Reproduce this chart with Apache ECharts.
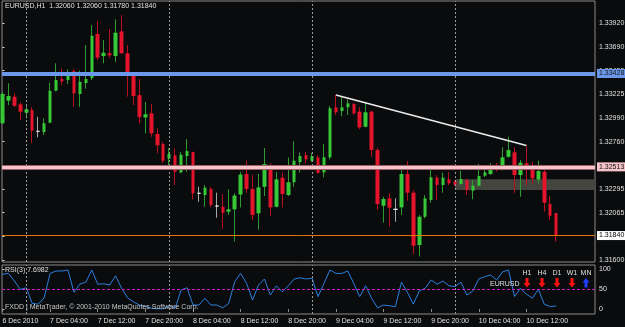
<!DOCTYPE html>
<html><head><meta charset="utf-8">
<script src="https://cdn.jsdelivr.net/npm/echarts@6/dist/echarts.min.js"></script>
<style>html,body{margin:0;padding:0;background:#0a0b0d;}#c{width:625px;height:327px;}</style>
</head><body><div id="c"></div>
<script>
// ---------- data (bar 0 = 6 Dec 2010 20:00, H1 bars) ----------
const symbol = 'EURUSD';
const timeframe = 'H1';
const opens = [1.32940,1.33162,1.33201,1.33126,1.33044,1.33070,1.32861,1.32854,1.32946,1.33259,
1.33374,1.33364,1.33452,1.33227,1.33335,1.33384,1.33815,1.33599,1.33626,1.33599,
1.33841,1.33626,1.33420,1.33217,1.32997,1.33038,1.32835,1.32737,1.32593,1.32626,
1.32459,1.32619,1.32658,1.32254,1.32237,1.32296,1.32129,1.32122,1.32073,1.32097,
1.32242,1.32443,1.32296,1.32058,1.32318,1.32521,1.32122,1.32407,1.32237,1.32362,
1.32560,1.32629,1.32573,1.32605,1.32459,1.32607,1.33097,1.33060,1.33097,1.33129,
1.33054,1.32906,1.33054,1.32678,1.32132,1.32205,1.32097,1.32116,1.32443,1.32260,
1.31747,1.32024,1.32188,1.32407,1.32335,1.32391,1.32367,1.32345,1.32384,1.32279,
1.32328,1.32426,1.32443,1.32521,1.32487,1.32612,1.32655,1.32433,1.32548,1.32485,
1.32389,1.32465,1.32149,1.32060];
const closes = [1.33227,1.33208,1.33112,1.33054,1.33077,1.32867,1.32861,1.32940,1.33259,1.33364,
1.33351,1.33442,1.33234,1.33347,1.33374,1.33798,1.33583,1.33632,1.33606,1.33828,
1.33626,1.33423,1.33208,1.33001,1.33029,1.32842,1.32724,1.32573,1.32639,1.32465,
1.32632,1.32668,1.32254,1.32254,1.32309,1.32139,1.32129,1.32064,1.32097,1.32232,
1.32438,1.32296,1.32041,1.32312,1.32541,1.32116,1.32391,1.32247,1.32362,1.32573,
1.32619,1.32587,1.32619,1.32453,1.32607,1.33087,1.33048,1.33097,1.33136,1.33038,
1.32900,1.33048,1.32678,1.32149,1.32198,1.32113,1.32097,1.32443,1.32260,1.31740,
1.32024,1.32205,1.32411,1.32335,1.32407,1.32352,1.32340,1.32394,1.32286,1.32328,
1.32423,1.32459,1.32524,1.32489,1.32607,1.32678,1.32433,1.32554,1.32482,1.32401,
1.32472,1.32162,1.32034,1.31840];
const lows = [1.32933,1.33119,1.33097,1.32972,1.32989,1.32750,1.32803,1.32825,1.32940,1.33255,
1.33315,1.33325,1.33102,1.33102,1.33279,1.33364,1.33560,1.33528,1.33583,1.33543,
1.33620,1.33201,1.33119,1.32940,1.32842,1.32808,1.32646,1.32548,1.32511,1.32335,
1.32450,1.32465,1.32195,1.32171,1.32122,1.32116,1.32015,1.31907,1.32041,1.31781,
1.32115,1.32257,1.31992,1.31899,1.32227,1.32031,1.32116,1.32116,1.32227,1.32318,
1.32456,1.32548,1.32560,1.32448,1.32411,1.32587,1.33021,1.33011,1.33021,1.33021,
1.32881,1.32900,1.32612,1.32090,1.31966,1.31926,1.31975,1.32041,1.32181,1.31659,
1.31634,1.32009,1.32162,1.32188,1.32260,1.32335,1.32325,1.32335,1.32237,1.32195,
1.32325,1.32413,1.32433,1.32467,1.32479,1.32602,1.32257,1.32220,1.32335,1.32352,
1.32352,1.32073,1.31992,1.31780];
const highs = [1.33247,1.33332,1.33234,1.33146,1.33129,1.33097,1.33004,1.32989,1.33338,1.33528,
1.33475,1.33469,1.33475,1.33455,1.33707,1.33903,1.33942,1.33756,1.33864,1.33959,
1.34001,1.33707,1.33425,1.33374,1.33148,1.33129,1.32891,1.32756,1.32695,1.32695,
1.32661,1.32786,1.32662,1.32318,1.32335,1.32318,1.32260,1.32244,1.32293,1.32254,
1.32462,1.32575,1.32433,1.32443,1.32698,1.32548,1.32462,1.32457,1.32605,1.32764,
1.32654,1.32661,1.32649,1.32629,1.32737,1.33109,1.33217,1.33201,1.33175,1.33142,
1.33097,1.33151,1.33063,1.32701,1.32220,1.32254,1.32205,1.32499,1.32570,1.32283,
1.32041,1.32237,1.32499,1.32433,1.32456,1.32462,1.32379,1.32475,1.32401,1.32384,
1.32541,1.32507,1.32548,1.32551,1.32705,1.32808,1.32705,1.32580,1.32722,1.32564,
1.32574,1.32531,1.32227,1.32060];
const rsi = [86.7,89,70,49,53,14,12,28,89,95,
95,97.5,42,62,67,97.5,62,63,60,83,
52,28,18,10,6,2,1,0.5,8,2,
47.5,53,10,10,27,10,10,3,14,68,
89,64,22.5,60,75,35,58,43,58,75,
78,75,77,31,64,97.5,89,89,95,64,
31,58,27,3,10,8,6,67,42,12,
45,52,72.5,62,70,58,56,67,35,45,
75,81,85,72.5,93,97.5,31,52,37,27,
49,12,6,7.6982];
const rsiPeriod = 3;
const timeLabelBars = [0,8,16,24,32,40,48,56,64,72,80,88];
const timeLabels = ['6 Dec 2010','7 Dec 04:00','7 Dec 12:00','7 Dec 20:00','8 Dec 04:00','8 Dec 12:00',
  '8 Dec 20:00','9 Dec 04:00','9 Dec 12:00','9 Dec 20:00','10 Dec 04:00','10 Dec 12:00'];
const priceTicks = [1.31600,1.31835,1.32065,1.32295,1.32525,1.32760,1.32990,1.33225,1.33455,1.33690,1.33920];
const rsiTicks = [0,50,100];
const rsiLevel = 50;
const separatorBars = [4,28,52,76];
const blueLevel = 1.33428;
const pinkLevel = 1.32513;
const bidLevel = 1.31840;
const trendStart = [56,1.33217];
const trendEnd = [88,1.32722];
const zoneStartBar = 76;
const zoneTop = 1.32391;
const zoneBottom = 1.32286;
const tfNames = ['H1','H4','D1','W1','MN'];
const tfDirs = [-1,-1,-1,-1,1];

// ---------- layout / style ----------
const BG = '#0a0b0d';
const FONT = '"Liberation Sans", Arial, sans-serif';
const TXT = '#e0e0e0';
const FRAME = '#8a8a8a';
const BULL = '#36c836', BULL_W = '#2c9c2c';
const BEAR = '#e3142c', BEAR_W = '#b80f1e';
const DOJI_W = '#a8a8a8', DOJI_X = '#e6e6e6';
const BID_COLOR = '#e8780a';
const GL = 2, GW = 593, STEP = 5.954;
const X_MIN = -0.08, X_MAX = X_MIN + GW / STEP;
const MAIN_TOP = 1, MAIN_H = 261;
const Y_MAX = 1.3414834 - 0.000098 * MAIN_TOP;
const Y_MIN = 1.3414834 - 0.000098 * (MAIN_TOP + MAIN_H);
const RSI_TOP = 265, RSI_H = 49;

const n = opens.length;
const isDoji = i => opens[i] === closes[i];
const wickData = opens.map((o, i) => {
  const d = { value: [i, o, closes[i], lows[i], highs[i]] };
  if (isDoji(i)) d.itemStyle = { color: DOJI_W, color0: DOJI_W, borderColor: DOJI_W, borderColor0: DOJI_W, borderColorDoji: DOJI_W };
  return d;
});
const bodyData = opens.map((o, i) => {
  const c = closes[i];
  const d = { value: [i, o, c, Math.min(o, c), Math.max(o, c)] };
  if (isDoji(i)) d.itemStyle = { color: DOJI_X, color0: DOJI_X, borderColor: DOJI_X, borderColor0: DOJI_X, borderColorDoji: DOJI_X, borderWidth: 1 };
  return d;
});
const rsiData = rsi.map((v, i) => [i, v]);
const last = n - 1;
const f5 = v => v.toFixed(5);

const graphics = [
  { type: 'text', left: 5, top: 3, z: 50, style: { text: `${symbol},${timeframe}  ${f5(opens[last])} ${f5(highs[last])} ${f5(lows[last])} ${f5(closes[last])}`, fill: TXT, font: `7px ${FONT}` } },
  { type: 'text', left: 5, top: 267, z: 50, style: { text: `RSI(${rsiPeriod}) ${rsi[last].toFixed(4)}`, fill: TXT, font: `7px ${FONT}` } },
  { type: 'text', left: 5, top: 304, z: 50, style: { text: 'FXDD | MetaTrader, © 2001-2010 MetaQuotes Software Corp.', fill: '#c8c8c8', font: `7px ${FONT}` } },
  { type: 'text', left: 490, top: 281, z: 50, style: { text: symbol, fill: TXT, font: `7px ${FONT}` } }
];
const tfX = [527, 542, 557, 572, 586];
tfNames.forEach((name, k) => {
  graphics.push({ type: 'text', x: tfX[k], y: 270, z: 50, style: { text: name, fill: TXT, font: `7px ${FONT}`, align: 'center' } });
  const cx = tfX[k], top = 278;
  const pts = tfDirs[k] < 0
    ? [[-1.5,0],[1.5,0],[1.5,5],[3.5,5],[0,9.5],[-3.5,5],[-1.5,5]]
    : [[0,0],[3.5,4.5],[1.5,4.5],[1.5,9.5],[-1.5,9.5],[-1.5,4.5],[-3.5,4.5]];
  graphics.push({ type: 'polygon', z: 50, shape: { points: pts.map(p => [cx + p[0], top + p[1]]) },
    style: { fill: tfDirs[k] < 0 ? '#ff1010' : '#2040ff' } });
});

const chart = echarts.init(document.getElementById('c'), null, { renderer: 'canvas' });
chart.setOption({
  backgroundColor: BG,
  animation: false,
  textStyle: { fontFamily: FONT },
  grid: [
    { left: GL, top: MAIN_TOP, width: GW, height: MAIN_H, show: true, borderColor: FRAME, borderWidth: 1, backgroundColor: 'transparent', containLabel: false, outerBoundsMode: 'none' },
    { left: GL, top: RSI_TOP, width: GW, height: RSI_H, show: true, borderColor: FRAME, borderWidth: 1, backgroundColor: 'transparent', containLabel: false, outerBoundsMode: 'none' }
  ],
  xAxis: [
    { type: 'value', gridIndex: 0, min: X_MIN, max: X_MAX, axisLine: { show: false }, axisTick: { show: false }, axisLabel: { show: false }, splitLine: { show: false } },
    { type: 'value', gridIndex: 1, min: X_MIN, max: X_MAX, axisLine: { show: false },
      axisTick: { show: true, customValues: timeLabelBars, length: 3, lineStyle: { color: FRAME } },
      axisLabel: { show: true, customValues: timeLabelBars, formatter: v => timeLabels[timeLabelBars.indexOf(Math.round(v))] || '',
        color: TXT, fontSize: 7, fontFamily: FONT, align: 'left', margin: 4, showMinLabel: true, showMaxLabel: true, hideOverlap: false },
      splitLine: { show: false } }
  ],
  yAxis: [
    { type: 'value', gridIndex: 0, position: 'right', min: Y_MIN, max: Y_MAX, axisLine: { show: false },
      axisTick: { show: true, customValues: priceTicks, length: 2, lineStyle: { color: TXT } },
      axisLabel: { show: true, customValues: priceTicks, formatter: v => v.toFixed(5), color: TXT, fontSize: 7, fontFamily: FONT, margin: 4, hideOverlap: false },
      splitLine: { show: false } },
    { type: 'value', gridIndex: 1, position: 'right', min: -12.5, max: 110, axisLine: { show: false },
      axisTick: { show: true, customValues: rsiTicks, length: 2, lineStyle: { color: TXT } },
      axisLabel: { show: true, customValues: rsiTicks, formatter: v => String(Math.round(v)), color: TXT, fontSize: 7, fontFamily: FONT, margin: 4, hideOverlap: false },
      splitLine: { show: false } }
  ],
  graphic: graphics,
  series: [
    { // background objects: rectangle zone and period separators
      type: 'line', xAxisIndex: 0, yAxisIndex: 0, data: [], z: 1, silent: true,
      markArea: { silent: true, itemStyle: { color: '#45453f', opacity: 1 },
        data: [[{ coord: [zoneStartBar, zoneTop] }, { coord: [X_MAX, zoneBottom] }]] },
      markLine: { silent: true, symbol: 'none', label: { show: false },
        lineStyle: { color: '#9a9a9a', width: 1, type: [2, 2] },
        data: separatorBars.map(b => ({ xAxis: b })) }
    },
    { type: 'line', xAxisIndex: 1, yAxisIndex: 1, data: [], z: 1, silent: true,
      markLine: { silent: true, symbol: 'none', label: { show: false },
        lineStyle: { color: '#9a9a9a', width: 1, type: [2, 2] },
        data: separatorBars.map(b => ({ xAxis: b })) } },
    { // bid price line
      type: 'line', xAxisIndex: 0, yAxisIndex: 0, z: 5, silent: true, showSymbol: false, symbol: 'none',
      color: BID_COLOR,
      data: [[X_MIN, bidLevel], [X_MAX, bidLevel]],
      lineStyle: { color: BID_COLOR, width: 1, opacity: 1 },
      itemStyle: { color: BID_COLOR },
      endLabel: { show: true, distance: 2, formatter: () => f5(bidLevel), backgroundColor: '#ffffff', color: '#000000', fontSize: 7, fontFamily: FONT, padding: [1, 2] }
    },
    { // wicks
      type: 'candlestick', xAxisIndex: 0, yAxisIndex: 0, z: 3, barWidth: 1, silent: true,
      encode: { x: 0, y: [1, 2, 3, 4] }, data: wickData,
      itemStyle: { color: BULL_W, color0: BEAR_W, borderColor: BULL_W, borderColor0: BEAR_W, borderColorDoji: DOJI_W, borderWidth: 1 }
    },
    { // bodies + object lines
      type: 'candlestick', xAxisIndex: 0, yAxisIndex: 0, z: 4, barWidth: 4, silent: true,
      encode: { x: 0, y: [1, 2, 3, 4] }, data: bodyData,
      itemStyle: { color: BULL, color0: BEAR, borderColor: BULL, borderColor0: BEAR, borderColorDoji: DOJI_X, borderWidth: 0 },
      markLine: { silent: true, symbol: 'none', precision: 5,
        data: [
          { yAxis: blueLevel, lineStyle: { color: '#6b98ea', width: 4, type: 'solid' },
            label: { show: true, position: 'end', distance: 2, formatter: () => f5(blueLevel), backgroundColor: '#6b98ea', color: '#101010', fontSize: 7, fontFamily: FONT, padding: [1, 2] } },
          { yAxis: pinkLevel, lineStyle: { color: '#a06068', width: 5, type: 'solid' }, label: { show: false } },
          { yAxis: pinkLevel, lineStyle: { color: '#f8c4cc', width: 3, type: 'solid' },
            label: { show: true, position: 'end', distance: 2, formatter: () => f5(pinkLevel), backgroundColor: '#f8c4cc', color: '#101010', fontSize: 7, fontFamily: FONT, padding: [1, 2] } },
          [{ coord: trendStart, lineStyle: { color: '#ececec', width: 1.5, type: 'solid' }, label: { show: false } }, { coord: trendEnd }]
        ] }
    },
    { // RSI
      type: 'line', xAxisIndex: 1, yAxisIndex: 1, z: 3, data: rsiData, showSymbol: false, silent: true,
      lineStyle: { color: '#2a80e0', width: 1 },
      markLine: { silent: true, symbol: 'none', label: { show: false },
        lineStyle: { color: '#c81ec8', width: 1, type: [3, 2] },
        data: [{ yAxis: rsiLevel }] }
    }
  ]
});
</script></body></html>
